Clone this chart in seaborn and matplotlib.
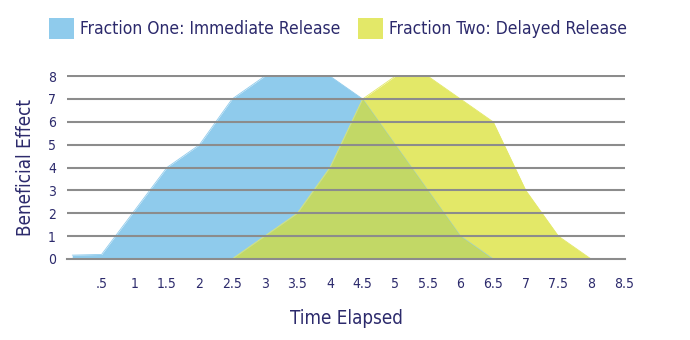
import numpy as np
import pandas as pd
import matplotlib
matplotlib.use("Agg")
import matplotlib.pyplot as plt
import seaborn as sns
from matplotlib.patches import Patch

# ---- data ----
series_names = ["Fraction One: Immediate Release", "Fraction Two: Delayed Release"]
one_time = [0.05, 0.5, 1.5, 2, 2.5, 3, 4, 4.5, 6, 6.5]
one_effect = [0.17, 0.2, 4, 5, 7, 8, 8, 7, 1, 0]
two_time = [2.5, 3, 3.5, 4, 4.5, 5, 5.5, 6, 6.5, 7, 7.5, 8]
two_effect = [0, 1, 2, 4, 7, 8, 8, 7, 6, 3, 1, 0]
x_ticks = [0.5, 1, 1.5, 2, 2.5, 3, 3.5, 4, 4.5, 5, 5.5, 6, 6.5, 7, 7.5, 8, 8.5]
x_tick_labels = [".5", "1", "1.5", "2", "2.5", "3", "3.5", "4", "4.5", "5", "5.5", "6", "6.5", "7", "7.5", "8", "8.5"]
y_ticks = [0, 1, 2, 3, 4, 5, 6, 7, 8]

BLUE = "#8fcbec"
YELLOW = "#e3e868"
OVERLAP = "#c2d866"
TEXT = "#2c2a6c"
GRID = "#8c8c8c"

sns.set_style("white")
plt.rcParams["font.family"] = ["DejaVu Sans"]
plt.rcParams["font.stretch"] = "condensed"

df_one = pd.DataFrame({"time": one_time, "effect": one_effect})
df_two = pd.DataFrame({"time": two_time, "effect": two_effect})

fig = plt.figure(figsize=(6.9, 3.4), dpi=100)
ax = fig.add_axes([67 / 690, 1 - 259 / 340, (625 - 67) / 690, (259 - 75) / 340])

ax.fill_between(df_one["time"], 0, df_one["effect"], color=BLUE, lw=0, zorder=1)
ax.fill_between(df_two["time"], 0, df_two["effect"], color=YELLOW, lw=0, zorder=1)

# overlap region (both curves evaluated on the union of their time points)
grid_t = np.union1d(df_one["time"], df_two["time"])
b = np.interp(grid_t, df_one["time"], df_one["effect"], left=0, right=0)
y = np.interp(grid_t, df_two["time"], df_two["effect"], left=0, right=0)
ax.fill_between(grid_t, 0, np.minimum(b, y), color=OVERLAP, lw=0, zorder=2)

sns.lineplot(data=df_one, x="time", y="effect", color=BLUE, lw=0.6, ax=ax, zorder=1)
sns.lineplot(data=df_two, x="time", y="effect", color=YELLOW, lw=0.6, ax=ax, zorder=1)

for v in y_ticks[1:]:
    ax.axhline(v, color=GRID, lw=1.5, zorder=3)

ax.set_xlim(-0.03, 8.52)
ax.set_ylim(0, 8.05)
for s in ["top", "right", "left"]:
    ax.spines[s].set_visible(False)
ax.spines["bottom"].set_color(GRID)
ax.spines["bottom"].set_linewidth(1.5)
ax.spines["bottom"].set_zorder(3)

ax.set_xticks(x_ticks)
ax.set_xticklabels(x_tick_labels)
ax.set_yticks(y_ticks)
ax.tick_params(axis="x", direction="out", length=6, width=1.2, color=GRID,
               labelsize=10, labelcolor=TEXT, pad=7)
ax.tick_params(axis="y", length=0, labelsize=10, labelcolor=TEXT, pad=8)

ax.set_xlabel("Time Elapsed", fontsize=13.5, color=TEXT, labelpad=13)
ax.set_ylabel("Beneficial Effect", fontsize=13.5, color=TEXT, labelpad=9)

handles = [Patch(facecolor=BLUE, edgecolor="none"), Patch(facecolor=YELLOW, edgecolor="none")]
fig.legend(handles, series_names, loc="upper left", bbox_to_anchor=(49 / 690, 1 - 18 / 340),
           ncol=2, frameon=False, fontsize=12.5, labelcolor=TEXT,
           handlelength=1.44, handleheight=1.44, handletextpad=0.35, columnspacing=1.0,
           borderaxespad=0, borderpad=0)

fig.savefig("out.png", dpi=100)
